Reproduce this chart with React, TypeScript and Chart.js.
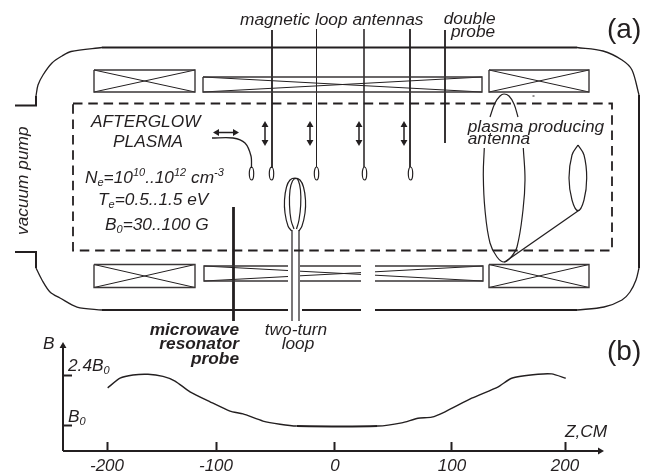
import React, { useEffect, useRef } from "react";
import { Chart, registerables } from "chart.js";

Chart.register(...registerables);

// ---- measured profile B(z) ----
const zValues = [-199.4, -188.6, -177.3, -164.2, -151.1, -140.6, -127.5, -110, -92.6, -81.2, -63.8, -48.9, -34.3, 36.4, 57.4, 71.6, 83.6, 95.2, 118.5, 141.7, 153.4, 176.4, 188.4, 200.6];
const bValues = [2.04, 2.31, 2.4, 2.42, 2.36, 2.23, 1.93, 1.65, 1.39, 1.31, 1.11, 1.02, 0.97, 0.97, 1.06, 1.19, 1.22, 1.37, 1.75, 2.07, 2.31, 2.42, 2.43, 2.31];
const zTickPositions = [-200, -104.8, -0.9, 101.3, 200];
const zTickLabels = ["-200", "-100", "0", "100", "200"];
const bTicks = [1, 2.4];

// ---- schematic geometry, in drawing units ----
type P = [number, number] | null;
const axisLines: P[] = [[63, 451], [63, 348], null, [63, 451], [598, 451]];
const vesselStraight: P[] = [[15, 105.5], [36, 105.5], [36, 96], null, [102, 47.5], [577, 47.5], null, [639, 95], [639, 268], null, [577, 310], [375, 310], null, [361, 310], [302, 310], null, [288, 310], [102, 310], null, [36, 268], [36, 252], [15, 252]];
const vesselCorners: P[] = [[36, 96], [38, 85], [43, 75], [52, 63], [62, 56], [71, 51.5], [102, 47.5], null, [577, 47.5], [603, 51], [622, 60], [632, 70], [639, 95], null, [639, 268], [636, 280], [630, 292], [622, 300], [604, 307], [577, 310], null, [102, 310], [77, 307], [60, 298], [50, 292], [42, 280], [36, 268]];
const coilBoxes: P[] = [[94, 70], [195, 70], [195, 92], [94, 92], [94, 70], null, [94, 264.5], [195, 264.5], [195, 287.5], [94, 287.5], [94, 264.5], null, [489, 70], [589, 70], [589, 92], [489, 92], [489, 70], null, [489, 264.5], [589, 264.5], [589, 287.5], [489, 287.5], [489, 264.5], null, [203, 77], [482, 77], [482, 92], [203, 92], [203, 77], null, [288, 266], [204, 266], [204, 281], [288, 281], null, [300, 266], [361, 266], null, [300, 281], [361, 281], null, [375, 266], [483, 266], [483, 281], [375, 281]];
const coilCrosses: P[] = [[94, 70], [195, 92], null, [94, 92], [195, 70], null, [94, 264.5], [195, 287.5], null, [94, 287.5], [195, 264.5], null, [489, 70], [589, 92], null, [489, 92], [589, 70], null, [489, 264.5], [589, 287.5], null, [489, 287.5], [589, 264.5], null, [203, 77], [482, 92], null, [203, 92], [482, 77], null, [204, 266], [288, 270.5], null, [300, 271.2], [361, 274.4], null, [375, 275.2], [483, 281], null, [204, 281], [288, 276.5], null, [300, 275.8], [361, 272.6], null, [375, 271.8], [483, 266]];
const plasmaBox: P[] = [[73, 103.5], [612, 103.5], [612, 250.5], [73, 250.5], [73, 103.5]];
const heavyProbes: P[] = [[272, 30], [272, 168], null, [410, 29], [410, 167], null, [445, 30], [445, 143]];
const mediumProbes: P[] = [[364, 29], [364, 167]];
const thinProbes: P[] = [[316.5, 29], [316.5, 167], null, [532.5, 96], [534.5, 96]];
const resonatorProbe: P[] = [[233.5, 207], [233.5, 321]];
const loopStems: P[] = [[292, 230], [292, 321], null, [299, 230], [299, 321]];
const curvedLead: P[] = [[212, 138], [233, 138], [245, 143], [251, 156], [251.5, 168]];
const twoTurnLoop: P[] = [[299, 231], [302, 226], [305, 213], [305.5, 200], [303.5, 187], [300, 180], [295, 178], [290, 180], [286.5, 187], [284.5, 200], [285, 213], [288, 226], [291.7, 231], null, [294, 229], [291, 220], [289.5, 205], [290, 190], [292.5, 181], [296, 178.5], [298.5, 181], [300.5, 190], [300.7, 205], [299, 220], [296.5, 229]];
const antennaArcs: P[] = [[490, 117], [495, 103], [500, 96], [504, 94], [509, 96], [514, 104], [518, 117], null, [484.3, 148], [483.3, 175], [485, 210], [490, 243], [497, 257], [504, 262], [511, 257], [517, 247], [523, 210], [525, 180], [523.3, 148], null, [578, 145], [584, 155], [586.7, 178], [584, 200], [578, 210.7], [572, 200], [569, 178], [572, 155], [578, 145]];
const antennaFeed: P[] = [[578.3, 210.7], [504.3, 262.3]];
const moveArrows: P[] = [[265, 125], [265, 142], null, [310, 125], [310, 142], null, [359, 125], [359, 142], null, [404, 125], [404, 142], null, [217, 132.5], [235, 132.5]];
const arrowHeadPoints: P[] = [[265, 125], [265, 142], [310, 125], [310, 142], [359, 125], [359, 142], [404, 125], [404, 142], [217, 132.5], [235, 132.5], [63, 346], [600, 451]];
const arrowHeadRotations = [0, 180, 0, 180, 0, 180, 0, 180, -90, 90, 0, 90];
const probeLoopCentres: P[] = [[251.5, 173.5], [271.5, 173.5], [316.5, 173.5], [364.5, 173.5], [410.5, 173.5]];

// ---- text ----
type Part = { t: string; sub?: boolean; sup?: boolean };
type Label = { x: number; y: number; parts: Part[]; style?: string; size?: number; align?: "right" | "center"; rotate?: boolean };
const T = (t: string): Part => ({ t });
const SUB = (t: string): Part => ({ t, sub: true });
const SUP = (t: string): Part => ({ t, sup: true });
const labels: Label[] = [
  { x: 240, y: 25, parts: [T("magnetic loop antennas")] },
  { x: 443.7, y: 23.5, parts: [T("double")] },
  { x: 451, y: 37, parts: [T("probe")] },
  { x: 607, y: 38, parts: [T("(a)")], style: "normal", size: 28 },
  { x: 607, y: 360, parts: [T("(b)")], style: "normal", size: 28 },
  { x: 91, y: 126.5, parts: [T("AFTERGLOW")] },
  { x: 113, y: 146.5, parts: [T("PLASMA")] },
  { x: 85, y: 182.5, parts: [T("N"), SUB("e"), T("=10"), SUP("10"), T("..10"), SUP("12"), T(" cm"), SUP("-3")] },
  { x: 98, y: 205, parts: [T("T"), SUB("e"), T("=0.5..1.5 eV")] },
  { x: 105, y: 230, parts: [T("B"), SUB("0"), T("=30..100 G")] },
  { x: 28, y: 235, parts: [T("vacuum pump")], rotate: true },
  { x: 467.7, y: 131.5, parts: [T("plasma producing")] },
  { x: 467.7, y: 144, parts: [T("antenna")] },
  { x: 239, y: 334.5, parts: [T("microwave")], style: "italic bold", align: "right" },
  { x: 239, y: 349, parts: [T("resonator")], style: "italic bold", align: "right" },
  { x: 239, y: 363.5, parts: [T("probe")], style: "italic bold", align: "right" },
  { x: 296, y: 334.5, parts: [T("two-turn")], align: "center" },
  { x: 298, y: 348.5, parts: [T("loop")], align: "center" },
  { x: 43, y: 349, parts: [T("B")] },
  { x: 68, y: 371, parts: [T("2.4B"), SUB("0")] },
  { x: 68, y: 421.5, parts: [T("B"), SUB("0")] },
  { x: 565, y: 436.5, parts: [T("Z,CM")] },
];

const INK = "#231f20";
const FONT = '"Liberation Sans", Arial, sans-serif';

const toPoints = (list: P[]) => list.map((p) => (p ? { x: p[0], y: p[1] } : { x: NaN, y: NaN }));

const sketch = (data: P[], borderWidth: number, extra: Record<string, unknown> = {}) => ({
  type: "scatter" as const,
  data: toPoints(data),
  xAxisID: "px",
  yAxisID: "py",
  showLine: true,
  borderColor: INK,
  backgroundColor: INK,
  borderWidth,
  pointRadius: 0,
  clip: false,
  ...extra,
});

const textPlugin = {
  id: "schematicText",
  afterDatasetsDraw(chart: any) {
    const { ctx, scales } = chart;
    ctx.save();
    ctx.fillStyle = INK;
    ctx.textBaseline = "alphabetic";
    ctx.textAlign = "left";
    for (const l of labels) {
      const size = l.size ?? 17.3;
      const style = l.style ?? "italic";
      const font = (small: boolean) => `${style} ${small ? Math.round(size * 0.62) : size}px ${FONT}`;
      const width = l.parts.reduce((w, p) => {
        ctx.font = font(!!(p.sub || p.sup));
        return w + ctx.measureText(p.t).width;
      }, 0);
      ctx.save();
      ctx.translate(scales.px.getPixelForValue(l.x), scales.py.getPixelForValue(l.y));
      if (l.rotate) ctx.rotate(-Math.PI / 2);
      let cx = l.align === "right" ? -width : l.align === "center" ? -width / 2 : 0;
      for (const p of l.parts) {
        ctx.font = font(!!(p.sub || p.sup));
        ctx.fillText(p.t, cx, p.sub ? 3 : p.sup ? -7 : 0);
        cx += ctx.measureText(p.t).width;
      }
      ctx.restore();
    }
    ctx.restore();
  },
};

const noFit = (scale: any) => {
  scale.width = scale.isHorizontal() ? scale.width : 0;
  scale.height = scale.isHorizontal() ? 0 : scale.height;
  scale.paddingLeft = scale.paddingRight = scale.paddingTop = scale.paddingBottom = 0;
};

function probeMarker() {
  const c = document.createElement("canvas");
  c.width = 7;
  c.height = 15;
  const g = c.getContext("2d")!;
  g.strokeStyle = INK;
  g.lineWidth = 1.2;
  g.beginPath();
  g.ellipse(3.5, 7.5, 2.2, 6.5, 0, 0, Math.PI * 2);
  g.stroke();
  return c;
}

export default function App() {
  const ref = useRef<HTMLCanvasElement>(null);
  useEffect(() => {
    const chart = new Chart(ref.current!, {
      type: "scatter",
      data: {
        datasets: [
          {
            type: "scatter",
            label: "B(z)",
            data: zValues.map((x, i) => ({ x, y: bValues[i] })),
            xAxisID: "x",
            yAxisID: "y",
            showLine: true,
            borderColor: INK,
            borderWidth: 1.4,
            tension: 0.2,
            pointRadius: 0,
            clip: false,
            segment: { borderWidth: (c: any) => (c.p0DataIndex === 12 ? 2 : undefined) },
          },
          sketch(axisLines, 2),
          sketch(plasmaBox, 1.8, { borderDash: [9.5, 5.8] }),
          sketch(vesselStraight, 2),
          sketch(vesselCorners, 1.3, { tension: 0.3 }),
          sketch(coilBoxes, 1.4, { borderColor: "#3a3637" }),
          sketch(coilCrosses, 1),
          sketch(heavyProbes, 1.8),
          sketch(mediumProbes, 1.5),
          sketch(thinProbes, 1),
          sketch(resonatorProbe, 2.8),
          sketch(loopStems, 1.2),
          sketch(curvedLead, 1.3, { tension: 0.3 }),
          sketch(twoTurnLoop, 1.2, { tension: 0.4 }),
          sketch(antennaArcs, 1.2, { tension: 0.4 }),
          sketch(antennaFeed, 1.3),
          sketch(moveArrows, 1.5),
          sketch(arrowHeadPoints, 0, {
            showLine: false,
            pointStyle: "triangle",
            pointRadius: 4,
            pointBorderWidth: 0,
            pointBackgroundColor: INK,
            pointRotation: arrowHeadRotations,
          }),
          sketch(probeLoopCentres, 0, {
            showLine: false,
            pointStyle: probeMarker(),
            pointRadius: 7,
          }),
        ] as any,
      },
      options: {
        responsive: false,
        animation: false,
        events: [],
        layout: { padding: 0, autoPadding: false },
        plugins: { legend: { display: false }, tooltip: { enabled: false } },
        scales: {
          x: {
            type: "linear",
            min: -293.45,
            max: 275.1,
            position: { y: 0.272 },
            border: { display: false },
            grid: { drawOnChartArea: false, tickLength: -9, tickWidth: 2, tickColor: INK },
            ticks: {
              autoSkip: false,
              maxRotation: 0,
              padding: 14,
              color: INK,
              font: { family: FONT, style: "italic", size: 17 },
              callback: (_v: any, i: number) => zTickLabels[i],
            },
            afterBuildTicks: (s: any) => {
              s.ticks = zTickPositions.map((value) => ({ value }));
            },
            afterFit: noFit,
          },
          y: {
            type: "linear",
            min: -0.344,
            max: 12.9,
            position: { x: -238.4 },
            border: { display: false },
            grid: { drawOnChartArea: false, tickLength: -9, tickWidth: 2, tickColor: INK },
            ticks: { display: false },
            afterBuildTicks: (s: any) => {
              s.ticks = bTicks.map((value) => ({ value }));
            },
            afterFit: noFit,
          },
          px: { type: "linear", display: false, min: 0, max: 651 },
          py: { type: "linear", display: false, min: 0, max: 473, reverse: true },
        },
      } as any,
      plugins: [textPlugin],
    });
    return () => chart.destroy();
  }, []);
  return (
    <div style={{ position: "fixed", left: 0, top: 0, width: 651, height: 473, background: "#fff" }}>
      <canvas ref={ref} width={651} height={473} style={{ display: "block" }} />
    </div>
  );
}
